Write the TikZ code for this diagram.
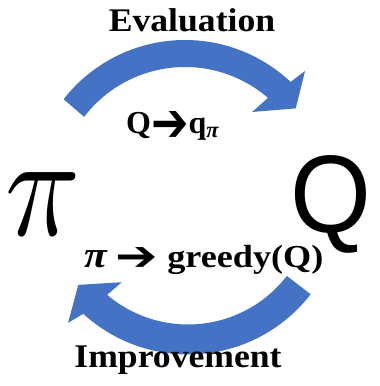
\documentclass[tikz,border=0pt]{standalone}
\usepackage{fontspec}
\setmainfont{Liberation Serif}
\newfontfamily\arrowfont{DejaVu Sans}
\newfontfamily\bigsans{Liberation Sans}
\definecolor{cycleblue}{RGB}{68,114,196}

\begin{document}
\begin{tikzpicture}[x=1pt, y=1pt,
    steptext/.style={font=\fontsize{33}{33}\selectfont\bfseries, inner sep=0pt, anchor=base},
    ruletext/.style={font=\fontsize{32}{32}\selectfont\bfseries, inner sep=0pt, anchor=base west},
    cyclearrow/.style={fill=cycleblue, draw=none}]
    \useasboundingbox (0,0) rectangle (380,386);

    \fill[cyclearrow, shift={(185,192)}] (142:154) arc[start angle=142, end angle=46.7, radius=154]
        -- (45.7:172) -- (37.7:140) -- (50.7:106) -- (49.2:127)
        arc[start angle=49.2, end angle=142.6, radius=127] -- cycle;
    \fill[cyclearrow, shift={(188,186.5)}] (-37.7:155) arc[start angle=-37.7, end angle=-132.5, radius=155]
        -- (-134.2:172) -- (-142.1:139) -- (-128.7:106) -- (-130.3:125)
        arc[start angle=-130.3, end angle=-37.7, radius=125] -- cycle;

    \node[steptext] (eval) at (192,354) {\scalebox{1.08}[1]{Evaluation}};
    \node[steptext] (impr) at (178,18) {\scalebox{1.08}[1]{Improvement}};
    \node[ruletext] (evalrule) at (126,252)
        {Q\raisebox{-8pt}{\scalebox{1.4}[1.7]{\arrowfont ➔}}q\textsubscript{\itshape π}};
    \node[ruletext] (imprrule) at (84,118)
        {\scalebox{1.13}[1]{{\itshape\scalebox{1.15}{π}} \raisebox{-3pt}{\scalebox{1.4}[1.3]{\arrowfont ➔}} greedy(Q)}};

    \node[inner sep=0pt, anchor=base] (policy) at (43.5,151) {\scalebox{12.4}[14.6]{$\pi$}};
    \node[font=\bigsans\fontsize{104}{104}\selectfont, inner sep=0pt, anchor=base] (qvalue) at (331,153)
        {\scalebox{1}[1.06]{Q}};
\end{tikzpicture}
\end{document}
